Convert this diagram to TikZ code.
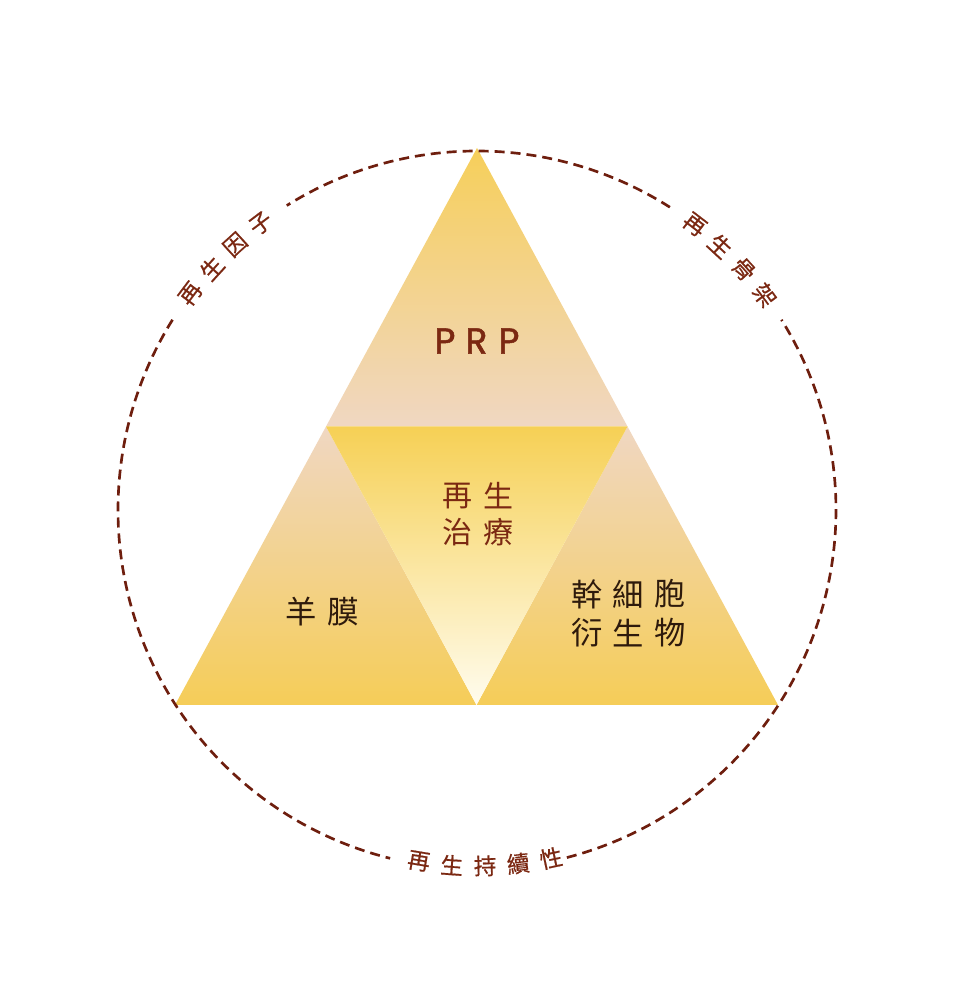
\documentclass[tikz,border=0pt]{standalone}
\usepackage{fontspec}
\newfontfamily\cjk{Noto Sans CJK TC}
\newfontfamily\cjkb{Noto Sans CJK TC}[FakeBold=0.6]
\newfontfamily\latn{Poppins}[FakeBold=1.4]
\definecolor{brownred}{HTML}{7B2812}
\definecolor{ringcol}{HTML}{6E1E0E}
\definecolor{darkink}{HTML}{2E1A0C}
\definecolor{ylw}{HTML}{F6CF5A}
\definecolor{pinkb}{HTML}{F0D7C2}
\definecolor{ylwB}{HTML}{F5CD58}
\definecolor{inTop}{HTML}{F6D055}
\definecolor{inBot}{HTML}{FFFCEE}
\tikzset{
  ring/.style={draw=ringcol, line width=2pt, dash pattern=on 7.5pt off 4.5pt},
  arclabel/.style={text=brownred, font=\cjkb\fontsize{17}{19}\selectfont, inner sep=0pt},
  redlabel/.style={text=brownred, font=\cjk\fontsize{22.5}{24}\selectfont, inner sep=0pt},
  inklabel/.style={text=darkink, font=\cjk\fontsize{23.5}{26}\selectfont, inner sep=0pt},
  prplabel/.style={text=brownred, font=\latn\fontsize{27}{30}\selectfont, inner sep=0pt},
}
\begin{document}
\begin{tikzpicture}[x=0.75pt,y=0.75pt]
\useasboundingbox (0,0) rectangle (952,1005);
\coordinate (C) at (477,495);
\coordinate (A) at (477,857);
\coordinate (BL) at (175,300);
\coordinate (BR) at (778,300);
\coordinate (ML) at (326,578.5);
\coordinate (MR) at (627.5,578.5);
\coordinate (MB) at (476.5,300);
% triangles
\shade[top color=ylw, bottom color=pinkb] (A) -- (ML) -- (MR) -- cycle;
\shade[top color=pinkb, bottom color=ylwB] (ML) -- (BL) -- (MB) -- cycle;
\shade[top color=pinkb, bottom color=ylwB] (MR) -- (MB) -- (BR) -- cycle;
\shade[top color=inTop, bottom color=inBot] (ML) -- (MR) -- (MB) -- cycle;
% dashed ring with gaps
\draw[ring] ([shift={(148:359)}]C) arc[start angle=148, end angle=256, radius=359];
\draw[ring] ([shift={(-75.5:359)}]C) arc[start angle=-75.5, end angle=32, radius=359];
\draw[ring] ([shift={(57.5:359)}]C) arc[start angle=57.5, end angle=122, radius=359];
% arc labels
\foreach \a/\ch [count=\i] in {142.95/再,137.65/生,132.35/因,127.05/子}
  \node[arclabel, rotate=\a-90] (ul\i) at ([shift={(\a:359)}]C) {\ch};
\foreach \a/\ch [count=\i] in {52.65/再,47.35/生,42.05/骨,36.75/架}
  \node[arclabel, rotate=\a-90] (ur\i) at ([shift={(\a:359)}]C) {\ch};
\foreach \a/\ch [count=\i] in {260.6/再,265.95/生,271.3/持,276.65/續,282/性}
  \node[arclabel, rotate=\a+90] (bt\i) at ([shift={(\a:356)}]C) {\ch};
% PRP
\node[prplabel] (p1) at (445,664) {P};
\node[prplabel] (p2) at (476.5,664) {R};
\node[prplabel] (p3) at (509,664) {P};
% center
\node[redlabel] (c1) at (457,509) {再};
\node[redlabel] (c2) at (498,509) {生};
\node[redlabel] (c3) at (457,473) {治};
\node[redlabel] (c4) at (498,473) {療};
% left
\node[inklabel] (l1) at (301,393) {羊};
\node[inklabel] (l2) at (343,393) {膜};
% right
\node[inklabel] (r1) at (587,411) {幹};
\node[inklabel] (r2) at (628,411) {細};
\node[inklabel] (r3) at (670,411) {胞};
\node[inklabel] (r4) at (587,372) {衍};
\node[inklabel] (r5) at (628,372) {生};
\node[inklabel] (r6) at (670,372) {物};
\end{tikzpicture}
\end{document}
